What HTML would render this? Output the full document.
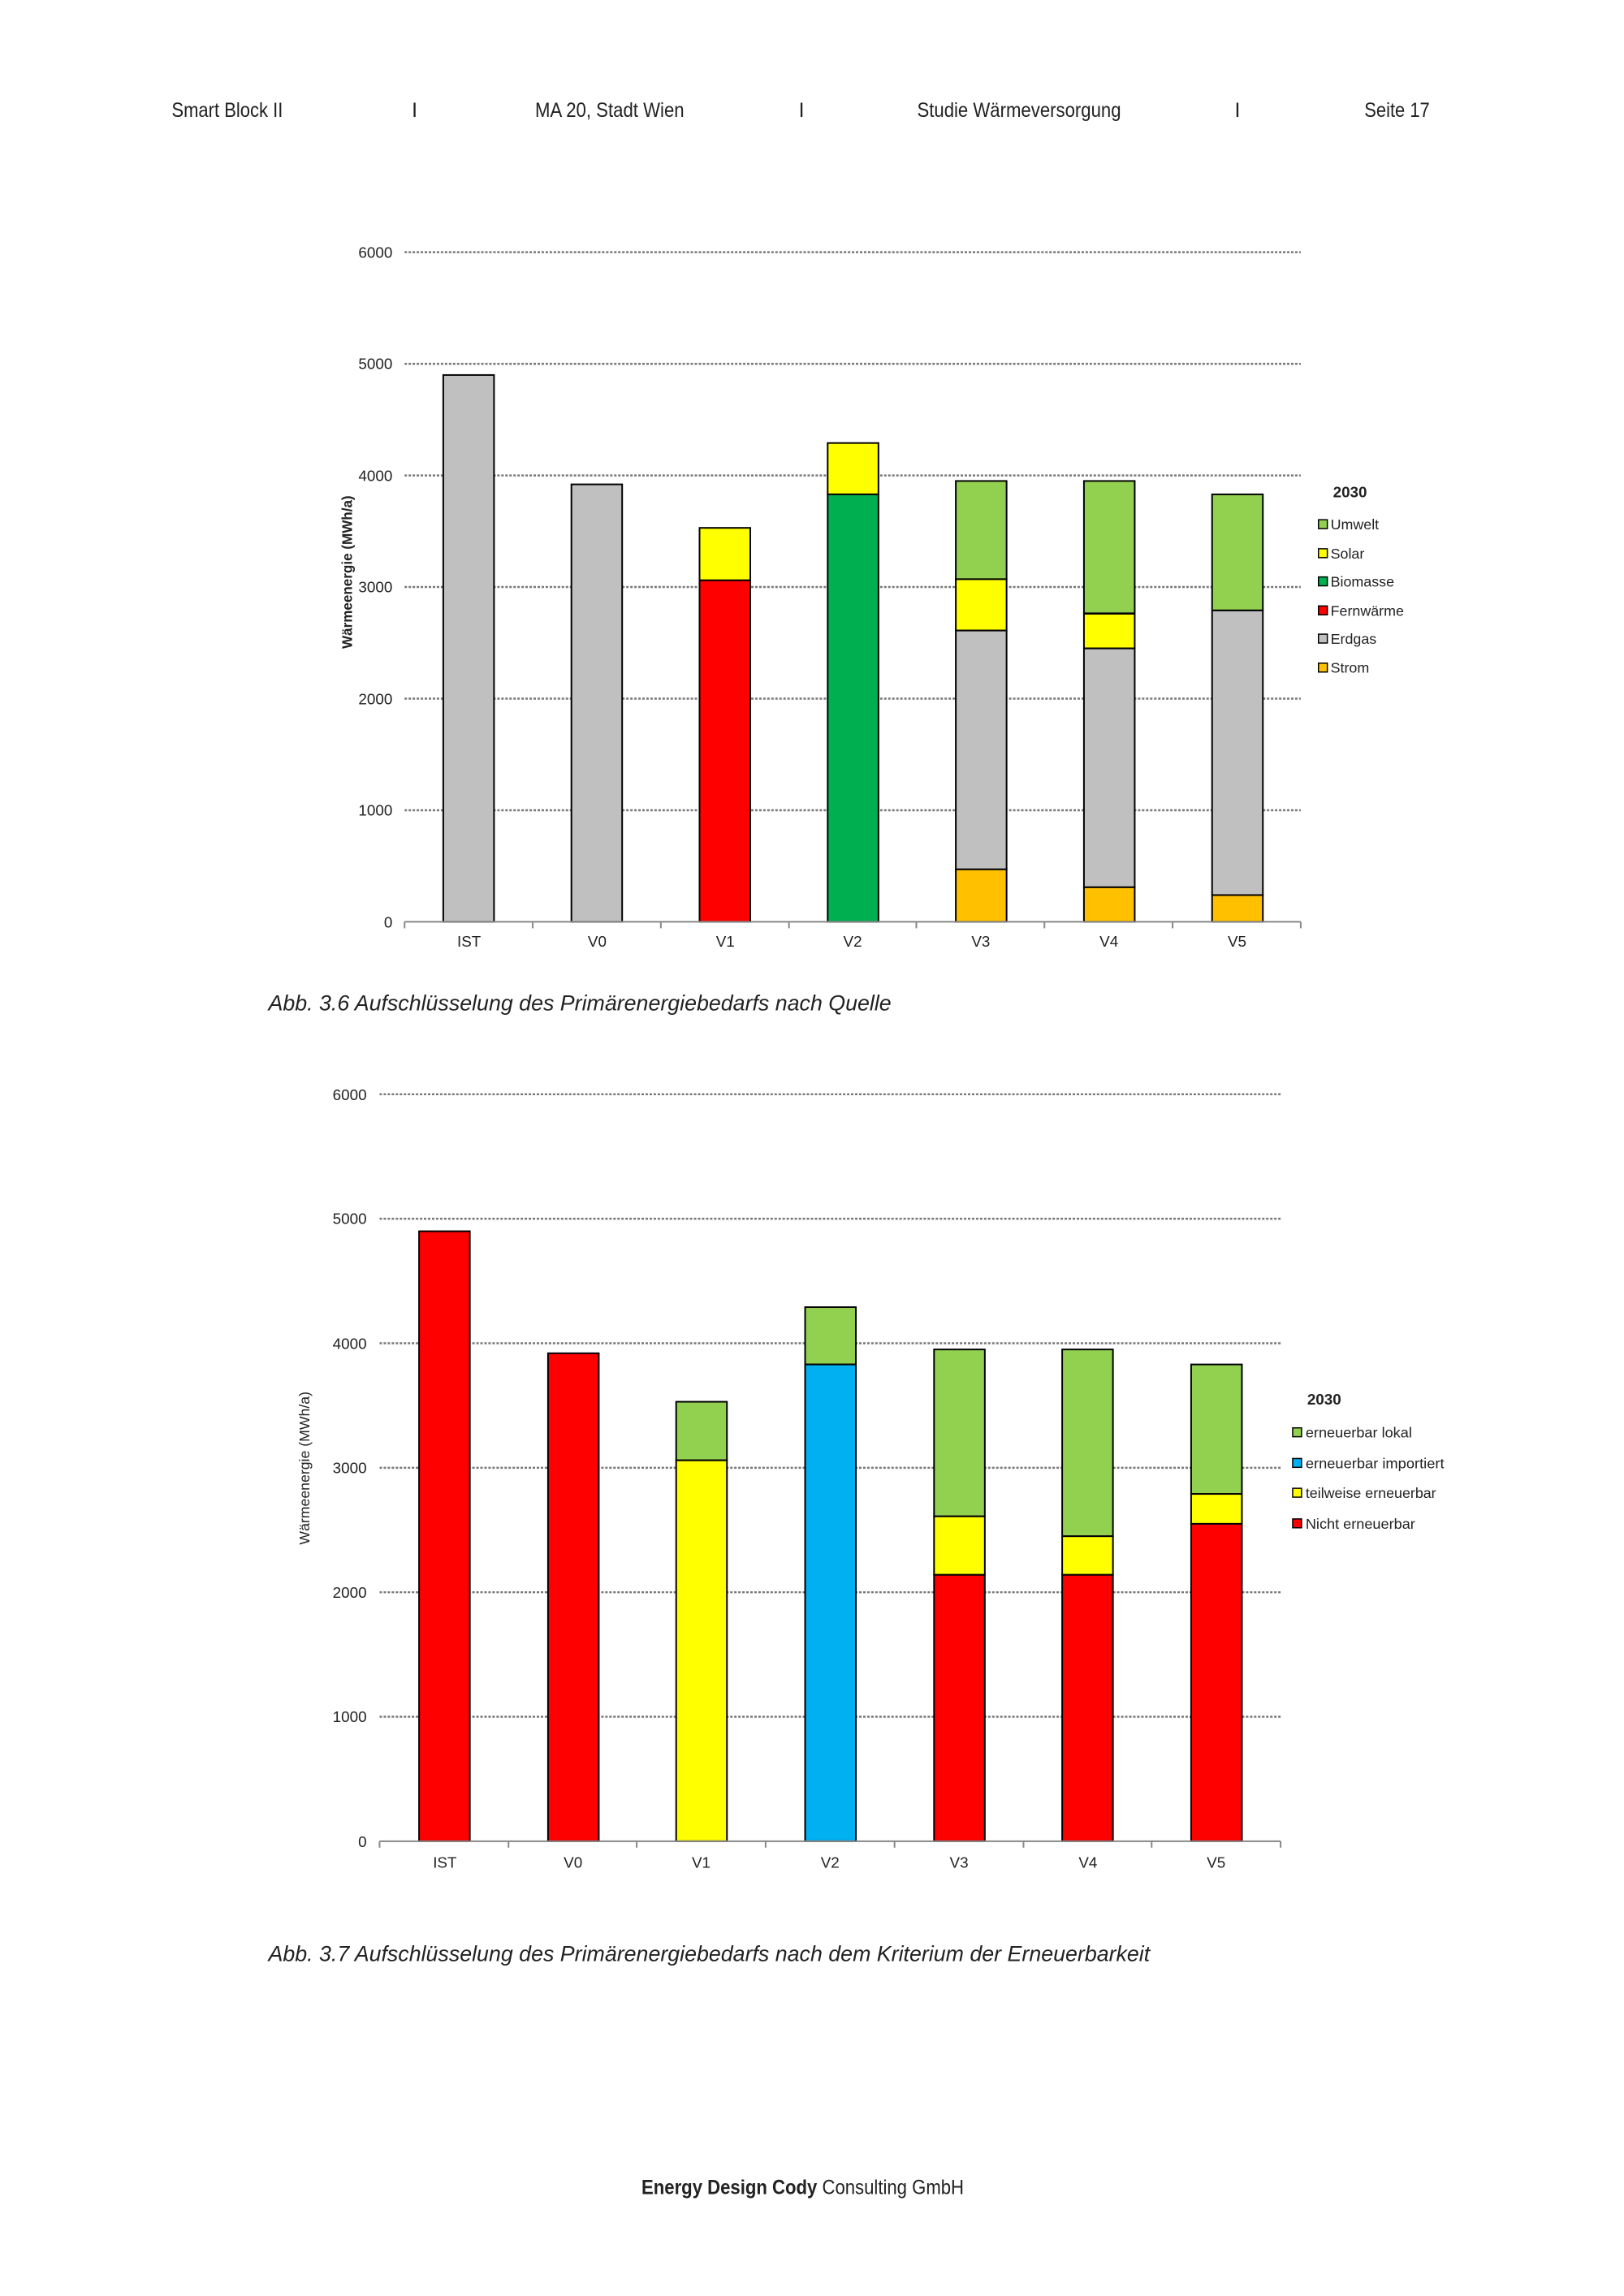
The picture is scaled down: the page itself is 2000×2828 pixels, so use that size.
<!DOCTYPE html>
<html><head><meta charset="utf-8"><style>
html,body{margin:0;padding:0;background:#fff}
svg{display:block}
text{font-family:"Liberation Sans Narrow","Liberation Sans",sans-serif;fill:#222}
</style></head><body>
<svg width="2000" height="2828" viewBox="0 0 2000 2828" xmlns="http://www.w3.org/2000/svg">
<g transform="scale(0.9925)">
<g font-size="25">
<text x="213" y="145" textLength="138" lengthAdjust="spacingAndGlyphs">Smart Block II</text>
<text x="511" y="145">I</text>
<text x="664" y="145" textLength="185" lengthAdjust="spacingAndGlyphs">MA 20, Stadt Wien</text>
<text x="991" y="145">I</text>
<text x="1138" y="145" textLength="253" lengthAdjust="spacingAndGlyphs">Studie Wärmeversorgung</text>
<text x="1532" y="145">I</text>
<text x="1693" y="145" textLength="81" lengthAdjust="spacingAndGlyphs">Seite 17</text>
</g>

<!-- Chart 1 -->
<g stroke="#777" stroke-width="2.5" stroke-dasharray="3,2">
<line x1="502" y1="313" x2="1614" y2="313"/>
<line x1="502" y1="451.5" x2="1614" y2="451.5"/>
<line x1="502" y1="590" x2="1614" y2="590"/>
<line x1="502" y1="728.5" x2="1614" y2="728.5"/>
<line x1="502" y1="867" x2="1614" y2="867"/>
<line x1="502" y1="1005.5" x2="1614" y2="1005.5"/>
</g>
<g font-size="19" text-anchor="end">
<text x="487" y="320">6000</text><text x="487" y="458">5000</text><text x="487" y="597">4000</text>
<text x="487" y="735">3000</text><text x="487" y="874">2000</text><text x="487" y="1012">1000</text><text x="487" y="1151">0</text>
</g>
<text transform="translate(437,710) rotate(-90)" font-size="18" text-anchor="middle" font-weight="bold" textLength="190" lengthAdjust="spacingAndGlyphs">Wärmeenergie (MWh/a)</text>
<g stroke="#000" stroke-width="2">
<rect x="550" y="465.4" width="63" height="678.6" fill="#c0c0c0"/>
<rect x="709" y="601.1" width="63" height="542.9" fill="#c0c0c0"/>
<rect x="868" y="655.1" width="63" height="65.1" fill="#ffff00"/>
<rect x="868" y="720.2" width="63" height="423.8" fill="#ff0000"/>
<rect x="1027" y="549.8" width="63" height="63.7" fill="#ffff00"/>
<rect x="1027" y="613.5" width="63" height="530.5" fill="#00b050"/>
<rect x="1186" y="596.9" width="63" height="121.9" fill="#92d050"/>
<rect x="1186" y="718.8" width="63" height="63.7" fill="#ffff00"/>
<rect x="1186" y="782.5" width="63" height="296.4" fill="#c0c0c0"/>
<rect x="1186" y="1078.9" width="63" height="65.1" fill="#ffc000"/>
<rect x="1345" y="596.9" width="63" height="164.2" fill="#92d050"/>
<rect x="1345" y="761.7" width="63" height="42.9" fill="#ffff00"/>
<rect x="1345" y="804.7" width="63" height="296.4" fill="#c0c0c0"/>
<rect x="1345" y="1101.1" width="63" height="42.9" fill="#ffc000"/>
<rect x="1504" y="613.5" width="63" height="144.0" fill="#92d050"/>
<rect x="1504" y="757.6" width="63" height="353.2" fill="#c0c0c0"/>
<rect x="1504" y="1110.8" width="63" height="33.2" fill="#ffc000"/>
</g>
<g stroke="#888" stroke-width="2">
<line x1="502" y1="1144" x2="1614" y2="1144"/>
<line x1="502" y1="1144" x2="502" y2="1152"/><line x1="661" y1="1144" x2="661" y2="1152"/>
<line x1="820" y1="1144" x2="820" y2="1152"/><line x1="979" y1="1144" x2="979" y2="1152"/>
<line x1="1137" y1="1144" x2="1137" y2="1152"/><line x1="1296" y1="1144" x2="1296" y2="1152"/>
<line x1="1455" y1="1144" x2="1455" y2="1152"/><line x1="1614" y1="1144" x2="1614" y2="1152"/>
</g>
<g font-size="19" text-anchor="middle">
<text x="582" y="1175">IST</text><text x="741" y="1175">V0</text><text x="900" y="1175">V1</text><text x="1058" y="1175">V2</text>
<text x="1217" y="1175">V3</text><text x="1376" y="1175">V4</text><text x="1535" y="1175">V5</text>
</g>
<text x="1654" y="617" font-size="19" font-weight="bold">2030</text>
<g stroke="#000" stroke-width="1.5">
<rect x="1636" y="645" width="11" height="11" fill="#92d050"/>
<rect x="1636" y="681" width="11" height="11" fill="#ffff00"/>
<rect x="1636" y="716" width="11" height="11" fill="#00b050"/>
<rect x="1636" y="752" width="11" height="11" fill="#ff0000"/>
<rect x="1636" y="787" width="11" height="11" fill="#c0c0c0"/>
<rect x="1636" y="823" width="11" height="11" fill="#ffc000"/>
</g>
<g font-size="18">
<text x="1651" y="657">Umwelt</text><text x="1651" y="693">Solar</text><text x="1651" y="728">Biomasse</text>
<text x="1651" y="764">Fernwärme</text><text x="1651" y="799">Erdgas</text><text x="1651" y="835">Strom</text>
</g>
<text x="333" y="1254" font-size="27" font-style="italic" style="font-family:'Liberation Sans',sans-serif">Abb. 3.6 Aufschlüsselung des Primärenergiebedarfs nach Quelle</text>

<!-- Chart 2 -->
<g stroke="#777" stroke-width="2.5" stroke-dasharray="3,2">
<line x1="471" y1="1358" x2="1589" y2="1358"/>
<line x1="471" y1="1512.5" x2="1589" y2="1512.5"/>
<line x1="471" y1="1667" x2="1589" y2="1667"/>
<line x1="471" y1="1821.5" x2="1589" y2="1821.5"/>
<line x1="471" y1="1976" x2="1589" y2="1976"/>
<line x1="471" y1="2130.5" x2="1589" y2="2130.5"/>
</g>
<g font-size="19" text-anchor="end">
<text x="455" y="1365">6000</text><text x="455" y="1519">5000</text><text x="455" y="1674">4000</text>
<text x="455" y="1828">3000</text><text x="455" y="1983">2000</text><text x="455" y="2137">1000</text><text x="455" y="2292">0</text>
</g>
<text transform="translate(384,1822) rotate(-90)" font-size="18" text-anchor="middle" textLength="190" lengthAdjust="spacingAndGlyphs">Wärmeenergie (MWh/a)</text>
<g stroke="#000" stroke-width="2">
<rect x="520" y="1528" width="63" height="757" fill="#ff0000"/>
<rect x="680" y="1679.4" width="63" height="605.6" fill="#ff0000"/>
<rect x="839" y="1739.6" width="63" height="72.6" fill="#92d050"/>
<rect x="839" y="1812.3" width="63" height="472.7" fill="#ffff00"/>
<rect x="999" y="1622.2" width="63" height="71.1" fill="#92d050"/>
<rect x="999" y="1693.3" width="63" height="591.7" fill="#00b0f0"/>
<rect x="1159" y="1674.7" width="63" height="207.1" fill="#92d050"/>
<rect x="1159" y="1881.8" width="63" height="72.6" fill="#ffff00"/>
<rect x="1159" y="1954.4" width="63" height="330.6" fill="#ff0000"/>
<rect x="1318" y="1674.7" width="63" height="231.8" fill="#92d050"/>
<rect x="1318" y="1906.5" width="63" height="47.9" fill="#ffff00"/>
<rect x="1318" y="1954.4" width="63" height="330.6" fill="#ff0000"/>
<rect x="1478" y="1693.3" width="63" height="160.7" fill="#92d050"/>
<rect x="1478" y="1854" width="63" height="37.1" fill="#ffff00"/>
<rect x="1478" y="1891.1" width="63" height="393.9" fill="#ff0000"/>
</g>
<g stroke="#888" stroke-width="2">
<line x1="471" y1="2285" x2="1589" y2="2285"/>
<line x1="471" y1="2285" x2="471" y2="2293"/><line x1="631" y1="2285" x2="631" y2="2293"/>
<line x1="790" y1="2285" x2="790" y2="2293"/><line x1="950" y1="2285" x2="950" y2="2293"/>
<line x1="1110" y1="2285" x2="1110" y2="2293"/><line x1="1270" y1="2285" x2="1270" y2="2293"/>
<line x1="1429" y1="2285" x2="1429" y2="2293"/><line x1="1589" y1="2285" x2="1589" y2="2293"/>
</g>
<g font-size="19" text-anchor="middle">
<text x="552" y="2318">IST</text><text x="711" y="2318">V0</text><text x="870" y="2318">V1</text><text x="1030" y="2318">V2</text>
<text x="1190" y="2318">V3</text><text x="1350" y="2318">V4</text><text x="1509" y="2318">V5</text>
</g>
<text x="1622" y="1743" font-size="19" font-weight="bold">2030</text>
<g stroke="#000" stroke-width="1.5">
<rect x="1604" y="1772" width="11" height="11" fill="#92d050"/>
<rect x="1604" y="1810" width="11" height="11" fill="#00b0f0"/>
<rect x="1604" y="1847" width="11" height="11" fill="#ffff00"/>
<rect x="1604" y="1885" width="11" height="11" fill="#ff0000"/>
</g>
<g font-size="18">
<text x="1620" y="1784" textLength="132" lengthAdjust="spacingAndGlyphs">erneuerbar lokal</text>
<text x="1620" y="1822" textLength="172" lengthAdjust="spacingAndGlyphs">erneuerbar importiert</text>
<text x="1620" y="1859" textLength="162" lengthAdjust="spacingAndGlyphs">teilweise erneuerbar</text>
<text x="1620" y="1897" textLength="136" lengthAdjust="spacingAndGlyphs">Nicht erneuerbar</text>
</g>
<text x="333" y="2434" font-size="27" font-style="italic" style="font-family:'Liberation Sans',sans-serif">Abb. 3.7 Aufschlüsselung des Primärenergiebedarfs nach dem Kriterium der Erneuerbarkeit</text>

<text x="796" y="2723" font-size="25" textLength="400" lengthAdjust="spacingAndGlyphs"><tspan font-weight="bold">Energy Design Cody</tspan> Consulting GmbH</text>
</g>
</svg>
</body></html>
